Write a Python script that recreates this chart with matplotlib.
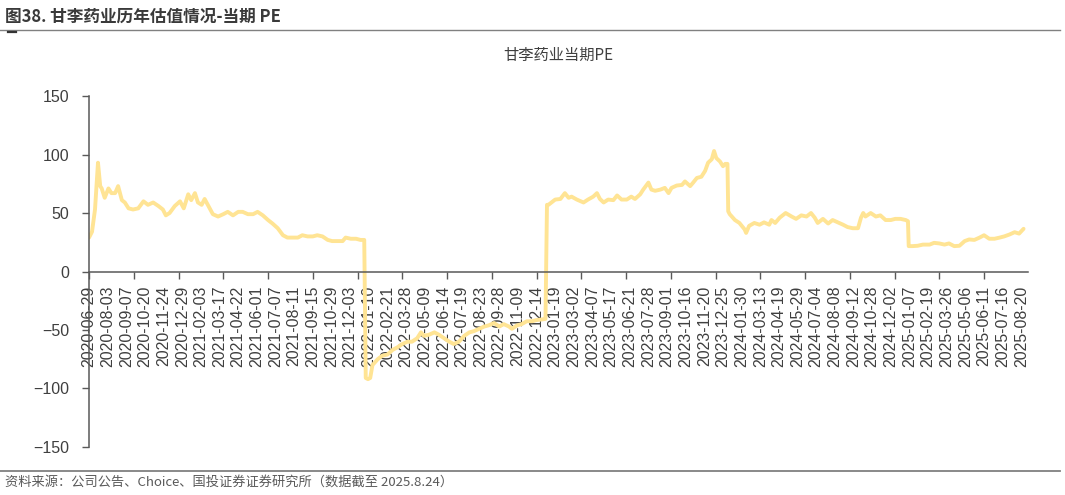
import matplotlib
matplotlib.use("Agg")
import matplotlib.pyplot as plt
from matplotlib.lines import Line2D

plt.rcParams['font.family'] = ['Liberation Sans', 'Noto Sans CJK SC']
plt.rcParams['axes.unicode_minus'] = True

# trading-day index (0 = 2020-06-29) and PE
day_idx = [
    0, 4, 8, 10, 12, 15, 17, 21, 26, 30, 35, 39, 44, 48, 53, 59, 66, 73, 79, 86,
    93, 99, 103, 108, 115, 122, 127, 133, 137, 142, 146, 151, 155, 160, 166, 173,
    180, 186, 193, 200, 206, 213, 220, 226, 233, 240, 246, 253, 260, 266, 273,
    280, 286, 293, 300, 306, 313, 320, 326, 333, 340, 344, 351, 358, 364, 369,
    371, 374, 377, 380, 387, 393, 400, 407, 413, 420, 427, 433, 440, 445, 449,
    456, 463, 469, 476, 483, 489, 496, 503, 510, 516, 523, 530, 536, 543, 550,
    556, 563, 567, 574, 580, 587, 594, 600, 607, 612,
    614, 616, 620, 625, 632, 638, 643, 647, 654, 663, 669, 676, 681, 685, 690,
    696, 703, 708, 714, 721, 727, 732, 739, 743, 750, 754, 759, 766, 772, 777,
    781, 788, 795, 799, 806, 810, 815, 821, 826, 830, 835, 838, 841, 846, 850,
    853, 856, 857, 859, 866, 872, 879, 881, 885, 892, 899, 905, 912, 915, 920,
    926, 934, 942, 948, 955, 962, 968, 973, 977, 984, 991, 997, 1004, 1011, 1017,
    1024, 1031, 1035, 1038, 1041, 1048, 1055, 1061, 1068, 1075, 1081, 1088, 1095,
    1098, 1099, 1104, 1111, 1118, 1127, 1133, 1140, 1147, 1153, 1160, 1167, 1174,
    1180, 1187, 1194, 1200, 1207, 1214, 1221, 1227, 1234, 1241, 1247, 1253,
]
pe_value = [
    29, 34, 53, 73, 93, 73, 71, 63, 71, 67, 67, 73, 61, 59, 54, 53, 54, 60, 57, 59,
    56, 53, 48, 50, 56, 60, 54, 66, 61, 67, 59, 57, 62, 56, 49, 47,
    49, 51, 48, 51, 51, 49, 49, 51, 48, 44, 41, 37, 31, 29, 29,
    29, 31, 30, 30, 31, 30, 27, 26, 26, 26, 29, 28, 28, 27, 27,
    -91, -92, -91, -80, -75, -72, -71, -67, -65, -62, -60, -60, -57, -52, -55,
    -54, -52, -54, -57, -60, -62, -60, -55, -52, -51, -49, -47, -46, -44, -47,
    -45, -47, -49, -46, -45, -42.5, -42.5, -41.5, -41, -40.5,
    57, 57, 59, 61.5, 62, 67, 63, 64, 61.5, 59, 61.5, 64, 67, 62, 59,
    61.5, 61, 65, 61.5, 61.5, 64, 62, 66, 70, 76, 70, 69, 70, 71.5, 67,
    71.5, 73.5, 74, 77, 73, 76, 80, 81, 86, 93, 96, 103, 97, 94, 90,
    92, 92, 51.5, 49, 44, 41.5, 36, 33, 39, 41.5, 40, 42, 40, 44, 41.5,
    46, 50, 47, 45, 48, 47, 50, 46, 41.5, 45, 41, 44, 42, 40, 38,
    37, 37, 46, 50, 47, 50, 47, 48, 44, 44, 45, 45, 44,
    43, 21.7, 21.7, 22, 23, 23, 24.5, 24, 23, 24, 21.7, 22, 26,
    27.4, 27, 29, 31, 28, 28, 29, 30, 31.6, 33.6, 32.4, 36.5,
]

date_labels = [
    "2020-06-29", "2020-08-03", "2020-09-07", "2020-10-20", "2020-11-24",
    "2020-12-29", "2021-02-03", "2021-03-17", "2021-04-22", "2021-06-01",
    "2021-07-07", "2021-08-11", "2021-09-15", "2021-10-29", "2021-12-03",
    "2022-01-10", "2022-02-21", "2022-03-28", "2022-05-09", "2022-06-14",
    "2022-07-19", "2022-08-23", "2022-09-28", "2022-11-09", "2022-12-14",
    "2023-01-19", "2023-03-02", "2023-04-07", "2023-05-17", "2023-06-21",
    "2023-07-28", "2023-09-01", "2023-10-16", "2023-11-20", "2023-12-25",
    "2024-01-30", "2024-03-13", "2024-04-19", "2024-05-29", "2024-07-04",
    "2024-08-08", "2024-09-12", "2024-10-28", "2024-12-02", "2025-01-07",
    "2025-02-19", "2025-03-26", "2025-05-06", "2025-06-11", "2025-07-16",
    "2025-08-20",
]
label_step = 25   # one date label every 25 trading days
tick_step = 60    # tick marks every 60 trading days

cjk = ['Noto Sans CJK SC', 'Liberation Sans']
axis_grey = '#595959'
text_grey = '#3f3f3f'

fig = plt.figure(figsize=(10.65, 4.95), dpi=100)
ax = fig.add_axes([0.0836, 0.097, 0.8817, 0.709])

ax.plot(day_idx, pe_value, color='#FFE494', lw=2.8,
        solid_joinstyle='round', solid_capstyle='round')

ax.set_xlim(0, 1259)
ax.set_ylim(-150, 150)
ax.set_yticks([-150, -100, -50, 0, 50, 100, 150])

# labels on major ticks (no mark), tick marks on minor ticks
ax.xaxis.remove_overlapping_locs = False
ax.set_xticks([i * label_step for i in range(len(date_labels))])
ax.set_xticklabels(date_labels)
ax.set_xticks([i * tick_step for i in range(1259 // tick_step + 1)], minor=True)
ax.tick_params(axis='x', which='major', length=0, pad=10, labelrotation=90,
               labelsize=11.4, labelcolor=text_grey)
ax.tick_params(axis='x', which='minor', length=5, width=1, color=axis_grey)
ax.tick_params(axis='y', length=5, width=1, color=axis_grey,
               labelsize=11.5, labelcolor=text_grey, pad=9)

ax.spines['top'].set_visible(False)
ax.spines['right'].set_visible(False)
ax.spines['bottom'].set_position(('data', 0))
for s in ('left', 'bottom'):
    ax.spines[s].set_color(axis_grey)
    ax.spines[s].set_linewidth(1.1)

ax.set_title("甘李药业当期PE", family=cjk, fontsize=11, color=text_grey,
             pad=26, fontweight='medium')

# header and footer
fig.text(5 / 1065, 1 - 17 / 495, "图38. 甘李药业历年估值情况-当期 PE",
         family=cjk, fontsize=12, fontweight='semibold', color='#3a3a3a',
         va='center', ha='left')
fig.add_artist(Line2D([0, 1060 / 1065], [1 - 30 / 495] * 2,
                      color='#808080', lw=1, transform=fig.transFigure))
fig.add_artist(Line2D([8 / 1065, 16 / 1065], [1 - 32 / 495] * 2,
                      color='#333333', lw=1.6, transform=fig.transFigure))
fig.add_artist(Line2D([0, 1060 / 1065], [1 - 471 / 495] * 2,
                      color='#808080', lw=1.3, transform=fig.transFigure))
fig.text(5 / 1065, 1 - 482 / 495,
         "资料来源：公司公告、Choice、国投证券证券研究所（数据截至 2025.8.24）",
         family=cjk, fontsize=9.5, style='italic', color='#595959',
         va='center', ha='left')

fig.savefig("out.png", dpi=100)
